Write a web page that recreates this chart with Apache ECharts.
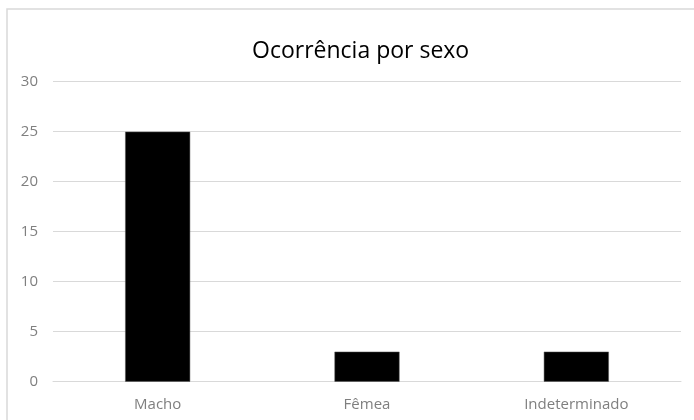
<!DOCTYPE html>
<html>
<head>
<meta charset="utf-8">
<script src="https://cdn.jsdelivr.net/npm/echarts@6/dist/echarts.min.js"></script>
<style>html,body{margin:0;padding:0;background:#fff}#c{width:694px;height:420px}</style>
</head>
<body>
<div id="c"></div>
<script>
const categories = ["Macho", "Fêmea", "Indeterminado"];
const values = [25, 3, 3];
const yTicks = [0, 5, 10, 15, 20, 25, 30];

const font = "'Open Sans', 'Noto Sans', sans-serif";
const chart = echarts.init(document.getElementById('c'), null, {renderer: 'canvas'});
chart.setOption({
  animation: false,
  backgroundColor: '#ffffff',
  title: {
    text: 'Ocorrência por sexo',
    left: 247,
    top: 35,
    textStyle: {fontFamily: font, fontSize: 23, fontWeight: 'normal', color: '#000000'}
  },
  graphic: [{
    type: 'rect',
    shape: {x: 7, y: 9, width: 720, height: 440},
    style: {fill: 'none', stroke: '#d9d9d9', lineWidth: 1.5},
    silent: true
  }],
  grid: {left: 53, right: 13, top: 81.7, bottom: 38.3, containLabel: false},
  xAxis: {
    type: 'category',
    data: categories,
    axisLine: {show: true, lineStyle: {color: '#d9d9d9', width: 1}},
    axisTick: {show: false},
    axisLabel: {color: '#7f7f7f', fontFamily: font, fontSize: 15, margin: 16}
  },
  yAxis: {
    type: 'value',
    min: yTicks[0],
    max: yTicks[yTicks.length - 1],
    interval: 5,
    axisLine: {show: false},
    axisTick: {show: false},
    splitLine: {lineStyle: {color: '#d9d9d9', width: 1}},
    axisLabel: {color: '#7f7f7f', fontFamily: font, fontSize: 15, margin: 15}
  },
  series: [{
    type: 'bar',
    data: values,
    barWidth: 65,
    itemStyle: {color: '#000000', borderColor: '#555555', borderWidth: 0.5}
  }]
});
</script>
</body>
</html>
